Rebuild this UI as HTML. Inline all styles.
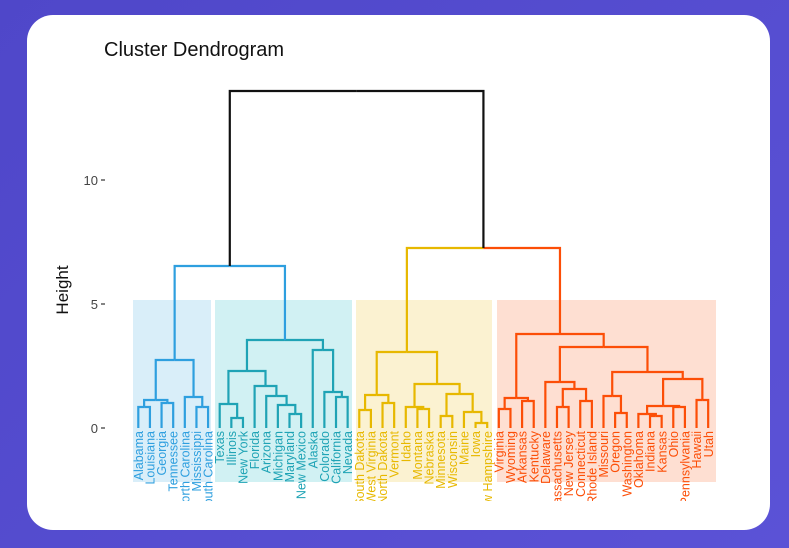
<!DOCTYPE html>
<html><head><meta charset="utf-8"><style>
html,body{margin:0;padding:0;width:789px;height:548px;overflow:hidden;background:linear-gradient(135deg,#4f47c9,#5b52d6);}
.card{position:absolute;left:27px;top:15px;width:743px;height:515px;background:#fff;border-radius:26px;}
svg{position:absolute;left:0;top:0;}
</style></head><body>
<div class="card"></div>
<svg id="s" width="789" height="548" xmlns="http://www.w3.org/2000/svg" font-family="Liberation Sans, sans-serif">
<defs><clipPath id="cp"><rect x="100" y="300" width="650" height="201"/></clipPath></defs>
<text x="104" y="56" font-size="20" fill="#111">Cluster Dendrogram</text>
<text transform="translate(68,290) rotate(-90)" font-size="17" text-anchor="middle" fill="#111">Height</text>
<g font-size="13" fill="#444" text-anchor="end">
<text x="98" y="185">10</text><text x="98" y="309">5</text><text x="98" y="433">0</text>
</g>
<g stroke="#333" stroke-width="1.2">
<line x1="101" y1="180" x2="105" y2="180"/><line x1="101" y1="304" x2="105" y2="304"/><line x1="101" y1="428" x2="105" y2="428"/>
</g>
<rect x="133" y="300" width="78" height="182" fill="#2E9FDF" fill-opacity="0.18"/>
<rect x="215" y="300" width="137" height="182" fill="#00AFBB" fill-opacity="0.18"/>
<rect x="356" y="300" width="136" height="182" fill="#E7B800" fill-opacity="0.18"/>
<rect x="497" y="300" width="219" height="182" fill="#FC4E07" fill-opacity="0.18"/>
<g id="lines" fill="none" stroke-width="2.2"></g>
<g font-size="12.5" text-anchor="end" clip-path="url(#cp)">
<g fill="#2E9FDF">
<text transform="translate(142.8,431) rotate(-90)">Alabama</text>
<text transform="translate(154.4,431) rotate(-90)">Louisiana</text>
<text transform="translate(166.0,431) rotate(-90)">Georgia</text>
<text transform="translate(177.7,431) rotate(-90)">Tennessee</text>
<text transform="translate(189.3,431) rotate(-90)">North Carolina</text>
<text transform="translate(201.0,431) rotate(-90)">Mississippi</text>
<text transform="translate(212.6,431) rotate(-90)">South Carolina</text>
</g>
<g fill="#1fa3b5">
<text transform="translate(224.2,431) rotate(-90)">Texas</text>
<text transform="translate(235.8,431) rotate(-90)">Illinois</text>
<text transform="translate(247.5,431) rotate(-90)">New York</text>
<text transform="translate(259.1,431) rotate(-90)">Florida</text>
<text transform="translate(270.7,431) rotate(-90)">Arizona</text>
<text transform="translate(282.4,431) rotate(-90)">Michigan</text>
<text transform="translate(294.0,431) rotate(-90)">Maryland</text>
<text transform="translate(305.6,431) rotate(-90)">New Mexico</text>
<text transform="translate(317.3,431) rotate(-90)">Alaska</text>
<text transform="translate(328.9,431) rotate(-90)">Colorado</text>
<text transform="translate(340.5,431) rotate(-90)">California</text>
<text transform="translate(352.2,431) rotate(-90)">Nevada</text>
</g>
<g fill="#E7B800">
<text transform="translate(363.8,431) rotate(-90)">South Dakota</text>
<text transform="translate(375.4,431) rotate(-90)">West Virginia</text>
<text transform="translate(387.1,431) rotate(-90)">North Dakota</text>
<text transform="translate(398.7,431) rotate(-90)">Vermont</text>
<text transform="translate(410.3,431) rotate(-90)">Idaho</text>
<text transform="translate(422.0,431) rotate(-90)">Montana</text>
<text transform="translate(433.6,431) rotate(-90)">Nebraska</text>
<text transform="translate(445.2,431) rotate(-90)">Minnesota</text>
<text transform="translate(456.9,431) rotate(-90)">Wisconsin</text>
<text transform="translate(468.5,431) rotate(-90)">Maine</text>
<text transform="translate(480.1,431) rotate(-90)">Iowa</text>
<text transform="translate(491.8,431) rotate(-90)">New Hampshire</text>
</g>
<g fill="#FC4E07">
<text transform="translate(503.4,431) rotate(-90)">Virginia</text>
<text transform="translate(515.0,431) rotate(-90)">Wyoming</text>
<text transform="translate(526.7,431) rotate(-90)">Arkansas</text>
<text transform="translate(538.3,431) rotate(-90)">Kentucky</text>
<text transform="translate(549.9,431) rotate(-90)">Delaware</text>
<text transform="translate(561.6,431) rotate(-90)">Massachusetts</text>
<text transform="translate(573.2,431) rotate(-90)">New Jersey</text>
<text transform="translate(584.8,431) rotate(-90)">Connecticut</text>
<text transform="translate(596.5,431) rotate(-90)">Rhode Island</text>
<text transform="translate(608.1,431) rotate(-90)">Missouri</text>
<text transform="translate(619.7,431) rotate(-90)">Oregon</text>
<text transform="translate(631.4,431) rotate(-90)">Washington</text>
<text transform="translate(643.0,431) rotate(-90)">Oklahoma</text>
<text transform="translate(654.6,431) rotate(-90)">Indiana</text>
<text transform="translate(666.3,431) rotate(-90)">Kansas</text>
<text transform="translate(677.9,431) rotate(-90)">Ohio</text>
<text transform="translate(689.5,431) rotate(-90)">Pennsylvania</text>
<text transform="translate(701.2,431) rotate(-90)">Hawaii</text>
<text transform="translate(712.8,431) rotate(-90)">Utah</text>
</g>
</g>
</svg>
<script>
var X=function(i){return 138.3+i*11.63;};
function N(h,l,r,c){return {h:h,l:l,r:r,c:c};}
var B='#2E9FDF',T='#1fa3b5',Y='#E7B800',O='#FC4E07',K='#111';
var blue=N(266,
 N(360,N(400,N(407,0,1,B),N(403,2,3,B),B),N(397,4,N(407,5,6,B),B),B),
 N(340,
  N(371,N(404,7,N(418,8,9,T),T),N(386,10,N(396,11,N(405,12,N(414,13,14,T),T),T),T),T),
  N(350,15,N(392,16,N(397,17,18,T),T),T),T),B);
var yel=N(352,
 N(395,N(410,19,20,Y),N(403,21,22,Y),Y),
 N(384,N(407,23,N(409,24,25,Y),Y),N(394,N(416,26,27,Y),N(412,28,N(423,29,30,Y),Y),Y),Y),Y);
var ora=N(334,
 N(398,N(409,31,32,O),N(401,33,34,O),O),
 N(347,
  N(382,35,N(389,N(407,36,37,O),N(401,38,39,O),O),O),
  N(372,N(396,40,N(413,41,42,O),O),
   N(379,N(406,N(414,43,N(416,44,45,O),O),N(407,46,47,O),O),N(400,48,49,O),O),O),O),O);
var root=N(91,blue,N(248,yel,ora,K),K);
var g=document.getElementById('lines'),out='';
function d(n){
 if(typeof n==='number')return {x:X(n),y:428};
 var a=d(n.l),b=d(n.r),m=(a.x+b.x)/2;
 var ca=n.c,cb=n.c;
 if(n.c===K&&n!==root){ca=n.l.c;cb=n.r.c;}
 out+='<path stroke="'+ca+'" d="M'+a.x+' '+a.y+'V'+n.h+'H'+m+'"/>';
 out+='<path stroke="'+cb+'" d="M'+m+' '+n.h+'H'+b.x+'V'+b.y+'"/>';
 return {x:m,y:n.h};
}
d(root);
g.innerHTML=out;
</script>
</body></html>
